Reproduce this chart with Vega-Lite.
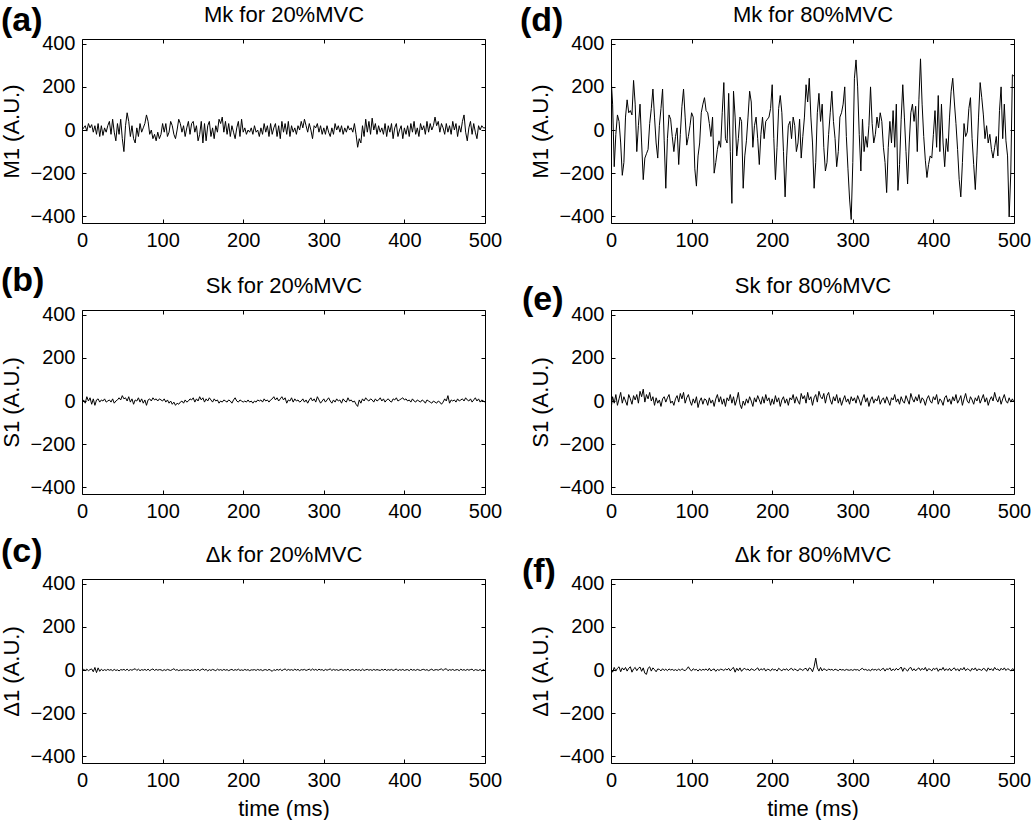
{
"$schema":"https://vega.github.io/schema/vega-lite/v6.json",
"background":"white",
"padding":{"left":0,"top":3,"right":0,"bottom":0},
"columns":2,
"spacing":{"row":12,"column":16},
"config":{
 "font":"Liberation Sans",
 "view":{"stroke":"black","strokeWidth":1},
 "axis":{"grid":false,"domain":false,"ticks":true,"tickColor":"black","tickSize":-4,"tickWidth":1,"labelColor":"black","labelFontSize":20,"labelFont":"Liberation Sans","labelPadding":11,"titleFont":"Liberation Sans","titleFontSize":22,"titleFontWeight":"normal","titleColor":"black","labelFlush":false,"labelOverlap":false},
 "title":{"anchor":"start","frame":"bounds","font":"Liberation Sans","fontSize":34,"fontWeight":"bold","color":"black"},
 "line":{"color":"black","strokeWidth":1}
},
"datasets":{
"a":[{"t":0,"v":0},{"t":2,"v":10},{"t":4,"v":20},{"t":6,"v":-5},{"t":8,"v":30},{"t":10,"v":10},{"t":12,"v":25},{"t":14,"v":-10},{"t":16,"v":20},{"t":18,"v":-20},
{"t":20,"v":30},{"t":22,"v":-30},{"t":24,"v":20},{"t":26,"v":-25},{"t":28,"v":10},{"t":30,"v":-10},{"t":32,"v":20},{"t":34,"v":40},{"t":36,"v":-20},{"t":38,"v":50},
{"t":40,"v":-10},{"t":42,"v":-50},{"t":44,"v":30},{"t":46,"v":-20},{"t":48,"v":50},{"t":50,"v":-40},{"t":52,"v":-100},{"t":54,"v":20},{"t":56,"v":80},{"t":58,"v":40},
{"t":60,"v":-30},{"t":62,"v":20},{"t":64,"v":-40},{"t":66,"v":-60},{"t":68,"v":10},{"t":70,"v":-30},{"t":72,"v":30},{"t":74,"v":-10},{"t":76,"v":10},{"t":78,"v":30},
{"t":80,"v":70},{"t":82,"v":40},{"t":84,"v":-20},{"t":86,"v":0},{"t":88,"v":-40},{"t":90,"v":-20},{"t":92,"v":-50},{"t":94,"v":-10},{"t":96,"v":-40},{"t":98,"v":-20},
{"t":100,"v":30},{"t":102,"v":-10},{"t":104,"v":30},{"t":106,"v":-30},{"t":108,"v":-10},{"t":110,"v":40},{"t":112,"v":20},{"t":114,"v":-20},{"t":116,"v":-40},{"t":118,"v":0},
{"t":120,"v":50},{"t":122,"v":30},{"t":124,"v":-10},{"t":126,"v":20},{"t":128,"v":-30},{"t":130,"v":10},{"t":132,"v":40},{"t":134,"v":-20},{"t":136,"v":30},{"t":138,"v":40},
{"t":140,"v":-10},{"t":142,"v":20},{"t":144,"v":-50},{"t":146,"v":-20},{"t":148,"v":40},{"t":150,"v":-60},{"t":152,"v":30},{"t":154,"v":-50},{"t":156,"v":20},{"t":158,"v":40},
{"t":160,"v":-30},{"t":162,"v":10},{"t":164,"v":-40},{"t":166,"v":20},{"t":168,"v":-10},{"t":170,"v":50},{"t":172,"v":30},{"t":174,"v":60},{"t":176,"v":-10},{"t":178,"v":40},
{"t":180,"v":-20},{"t":182,"v":30},{"t":184,"v":-30},{"t":186,"v":20},{"t":188,"v":-10},{"t":190,"v":-40},{"t":192,"v":10},{"t":194,"v":40},{"t":196,"v":-30},{"t":198,"v":50},
{"t":200,"v":-10},{"t":202,"v":10},{"t":204,"v":-20},{"t":206,"v":0},{"t":208,"v":-10},{"t":210,"v":10},{"t":212,"v":-20},{"t":214,"v":20},{"t":216,"v":-10},{"t":218,"v":0},
{"t":220,"v":-30},{"t":222,"v":10},{"t":224,"v":-20},{"t":226,"v":30},{"t":228,"v":-10},{"t":230,"v":20},{"t":232,"v":-30},{"t":234,"v":30},{"t":236,"v":-20},{"t":238,"v":10},
{"t":240,"v":30},{"t":242,"v":-30},{"t":244,"v":20},{"t":246,"v":-40},{"t":248,"v":40},{"t":250,"v":-10},{"t":252,"v":30},{"t":254,"v":-20},{"t":256,"v":40},{"t":258,"v":-30},
{"t":260,"v":20},{"t":262,"v":-10},{"t":264,"v":10},{"t":266,"v":-20},{"t":268,"v":20},{"t":270,"v":0},{"t":272,"v":40},{"t":274,"v":10},{"t":276,"v":50},{"t":278,"v":20},
{"t":280,"v":-10},{"t":282,"v":30},{"t":284,"v":0},{"t":286,"v":-40},{"t":288,"v":20},{"t":290,"v":10},{"t":292,"v":30},{"t":294,"v":-10},{"t":296,"v":20},{"t":298,"v":-20},
{"t":300,"v":10},{"t":302,"v":-20},{"t":304,"v":20},{"t":306,"v":-10},{"t":308,"v":-30},{"t":310,"v":10},{"t":312,"v":-20},{"t":314,"v":30},{"t":316,"v":0},{"t":318,"v":20},
{"t":320,"v":-10},{"t":322,"v":20},{"t":324,"v":-20},{"t":326,"v":10},{"t":328,"v":-10},{"t":330,"v":20},{"t":332,"v":0},{"t":334,"v":10},{"t":336,"v":-10},{"t":338,"v":30},
{"t":340,"v":-20},{"t":342,"v":-80},{"t":344,"v":-40},{"t":346,"v":-60},{"t":348,"v":20},{"t":350,"v":-30},{"t":352,"v":50},{"t":354,"v":-10},{"t":356,"v":40},{"t":358,"v":-20},
{"t":360,"v":55},{"t":362,"v":0},{"t":364,"v":30},{"t":366,"v":-20},{"t":368,"v":20},{"t":370,"v":-10},{"t":372,"v":10},{"t":374,"v":-20},{"t":376,"v":30},{"t":378,"v":-30},
{"t":380,"v":20},{"t":382,"v":-10},{"t":384,"v":30},{"t":386,"v":-40},{"t":388,"v":10},{"t":390,"v":30},{"t":392,"v":-30},{"t":394,"v":0},{"t":396,"v":20},{"t":398,"v":-40},
{"t":400,"v":10},{"t":402,"v":-20},{"t":404,"v":20},{"t":406,"v":-30},{"t":408,"v":30},{"t":410,"v":-10},{"t":412,"v":40},{"t":414,"v":-20},{"t":416,"v":10},{"t":418,"v":-30},
{"t":420,"v":30},{"t":422,"v":0},{"t":424,"v":20},{"t":426,"v":-20},{"t":428,"v":40},{"t":430,"v":-10},{"t":432,"v":30},{"t":434,"v":0},{"t":436,"v":20},{"t":438,"v":60},
{"t":440,"v":20},{"t":442,"v":40},{"t":444,"v":-10},{"t":446,"v":30},{"t":448,"v":10},{"t":450,"v":-20},{"t":452,"v":30},{"t":454,"v":-10},{"t":456,"v":20},{"t":458,"v":-20},
{"t":460,"v":40},{"t":462,"v":0},{"t":464,"v":30},{"t":466,"v":-30},{"t":468,"v":20},{"t":470,"v":-10},{"t":472,"v":40},{"t":474,"v":70},{"t":476,"v":-10},{"t":478,"v":-50},
{"t":480,"v":10},{"t":482,"v":40},{"t":484,"v":-20},{"t":486,"v":30},{"t":488,"v":-10},{"t":490,"v":-40},{"t":492,"v":20},{"t":494,"v":0},{"t":496,"v":20},{"t":498,"v":10},{"t":500,"v":10}],
"d":[{"t":0,"v":250},{"t":2,"v":120},{"t":4,"v":-170},{"t":6,"v":-20},{"t":8,"v":70},{"t":10,"v":40},{"t":12,"v":-60},{"t":14,"v":-210},{"t":16,"v":-150},{"t":18,"v":60},
{"t":20,"v":140},{"t":22,"v":80},{"t":24,"v":90},{"t":26,"v":70},{"t":28,"v":230},{"t":30,"v":120},{"t":32,"v":-100},{"t":34,"v":20},{"t":36,"v":120},{"t":38,"v":-60},
{"t":40,"v":-230},{"t":42,"v":-130},{"t":44,"v":-110},{"t":46,"v":-90},{"t":48,"v":30},{"t":50,"v":100},{"t":52,"v":190},{"t":54,"v":60},{"t":56,"v":-60},{"t":58,"v":-130},
{"t":60,"v":20},{"t":62,"v":100},{"t":64,"v":190},{"t":66,"v":-50},{"t":68,"v":-270},{"t":70,"v":-40},{"t":72,"v":70},{"t":74,"v":50},{"t":76,"v":-30},{"t":78,"v":-100},
{"t":80,"v":-30},{"t":82,"v":10},{"t":84,"v":-160},{"t":86,"v":-20},{"t":88,"v":110},{"t":90,"v":190},{"t":92,"v":60},{"t":94,"v":-70},{"t":96,"v":-30},{"t":98,"v":20},
{"t":100,"v":80},{"t":102,"v":60},{"t":104,"v":-180},{"t":106,"v":-260},{"t":108,"v":-120},{"t":110,"v":-60},{"t":112,"v":80},{"t":114,"v":120},{"t":116,"v":150},{"t":118,"v":90},
{"t":120,"v":80},{"t":122,"v":30},{"t":124,"v":-30},{"t":126,"v":60},{"t":128,"v":-200},{"t":130,"v":-150},{"t":132,"v":-90},{"t":134,"v":-50},{"t":136,"v":-80},{"t":138,"v":80},
{"t":140,"v":220},{"t":142,"v":-40},{"t":144,"v":-60},{"t":146,"v":170},{"t":148,"v":-100},{"t":150,"v":-340},{"t":152,"v":180},{"t":154,"v":60},{"t":156,"v":-120},{"t":158,"v":-40},
{"t":160,"v":60},{"t":162,"v":40},{"t":164,"v":-270},{"t":166,"v":-120},{"t":168,"v":-50},{"t":170,"v":60},{"t":172,"v":180},{"t":174,"v":130},{"t":176,"v":-80},{"t":178,"v":20},
{"t":180,"v":60},{"t":182,"v":-40},{"t":184,"v":-160},{"t":186,"v":-20},{"t":188,"v":60},{"t":190,"v":-40},{"t":192,"v":40},{"t":194,"v":50},{"t":196,"v":60},{"t":198,"v":100},
{"t":200,"v":210},{"t":202,"v":-40},{"t":204,"v":-230},{"t":206,"v":-80},{"t":208,"v":100},{"t":210,"v":160},{"t":212,"v":80},{"t":214,"v":-100},{"t":216,"v":-310},{"t":218,"v":-120},
{"t":220,"v":20},{"t":222,"v":40},{"t":224,"v":-40},{"t":226,"v":60},{"t":228,"v":20},{"t":230,"v":-100},{"t":232,"v":-60},{"t":234,"v":50},{"t":236,"v":-130},{"t":238,"v":-30},
{"t":240,"v":60},{"t":242,"v":210},{"t":244,"v":130},{"t":246,"v":240},{"t":248,"v":60},{"t":250,"v":-60},{"t":252,"v":-270},{"t":254,"v":-150},{"t":256,"v":80},{"t":258,"v":170},
{"t":260,"v":40},{"t":262,"v":120},{"t":264,"v":-80},{"t":266,"v":-190},{"t":268,"v":-150},{"t":270,"v":-20},{"t":272,"v":80},{"t":274,"v":180},{"t":276,"v":40},{"t":278,"v":-40},
{"t":280,"v":-170},{"t":282,"v":-100},{"t":284,"v":60},{"t":286,"v":80},{"t":288,"v":120},{"t":290,"v":200},{"t":292,"v":-30},{"t":294,"v":-180},{"t":296,"v":-320},{"t":298,"v":-415},
{"t":300,"v":-150},{"t":302,"v":240},{"t":304,"v":325},{"t":306,"v":200},{"t":308,"v":-20},{"t":310,"v":-190},{"t":312,"v":50},{"t":314,"v":-100},{"t":316,"v":-30},{"t":318,"v":-80},
{"t":320,"v":20},{"t":322,"v":200},{"t":324,"v":30},{"t":326,"v":-60},{"t":328,"v":-20},{"t":330,"v":60},{"t":332,"v":10},{"t":334,"v":80},{"t":336,"v":40},{"t":338,"v":-80},
{"t":340,"v":-150},{"t":342,"v":-290},{"t":344,"v":-80},{"t":346,"v":40},{"t":348,"v":-60},{"t":350,"v":90},{"t":352,"v":-80},{"t":354,"v":120},{"t":356,"v":-280},{"t":358,"v":-160},
{"t":360,"v":50},{"t":362,"v":210},{"t":364,"v":60},{"t":366,"v":-100},{"t":368,"v":-250},{"t":370,"v":-60},{"t":372,"v":80},{"t":374,"v":120},{"t":376,"v":40},{"t":378,"v":110},
{"t":380,"v":-100},{"t":382,"v":140},{"t":384,"v":330},{"t":386,"v":120},{"t":388,"v":-30},{"t":390,"v":-140},{"t":392,"v":-220},{"t":394,"v":-160},{"t":396,"v":-120},{"t":398,"v":-130},
{"t":400,"v":-20},{"t":402,"v":90},{"t":404,"v":-80},{"t":406,"v":160},{"t":408,"v":-100},{"t":410,"v":120},{"t":412,"v":-60},{"t":414,"v":-170},{"t":416,"v":-40},{"t":418,"v":-100},
{"t":420,"v":60},{"t":422,"v":180},{"t":424,"v":240},{"t":426,"v":130},{"t":428,"v":30},{"t":430,"v":-90},{"t":432,"v":-230},{"t":434,"v":-310},{"t":436,"v":-150},{"t":438,"v":30},
{"t":440,"v":-30},{"t":442,"v":-10},{"t":444,"v":100},{"t":446,"v":150},{"t":448,"v":-40},{"t":450,"v":-160},{"t":452,"v":-276},{"t":454,"v":-120},{"t":456,"v":60},{"t":458,"v":220},
{"t":460,"v":150},{"t":462,"v":70},{"t":464,"v":-40},{"t":466,"v":20},{"t":468,"v":-60},{"t":470,"v":-20},{"t":472,"v":-90},{"t":474,"v":-130},{"t":476,"v":-80},{"t":478,"v":-30},
{"t":480,"v":-120},{"t":482,"v":90},{"t":484,"v":200},{"t":486,"v":-40},{"t":488,"v":120},{"t":490,"v":-50},{"t":492,"v":-120},{"t":494,"v":-403},{"t":496,"v":-200},{"t":498,"v":256},{"t":500,"v":250}],
"b":[{"t":0,"v":-5},{"t":2,"v":5},{"t":4,"v":-10},{"t":6,"v":20},{"t":8,"v":0},{"t":10,"v":15},{"t":12,"v":-15},{"t":14,"v":10},{"t":16,"v":-20},{"t":18,"v":5},
{"t":20,"v":10},{"t":22,"v":-5},{"t":24,"v":5},{"t":26,"v":0},{"t":28,"v":10},{"t":30,"v":-5},{"t":32,"v":0},{"t":34,"v":5},{"t":36,"v":-5},{"t":38,"v":10},
{"t":40,"v":-10},{"t":42,"v":0},{"t":44,"v":5},{"t":46,"v":15},{"t":48,"v":5},{"t":50,"v":25},{"t":52,"v":10},{"t":54,"v":15},{"t":56,"v":0},{"t":58,"v":20},
{"t":60,"v":-5},{"t":62,"v":10},{"t":64,"v":-15},{"t":66,"v":5},{"t":68,"v":0},{"t":70,"v":15},{"t":72,"v":-5},{"t":74,"v":10},{"t":76,"v":-10},{"t":78,"v":5},
{"t":80,"v":-20},{"t":82,"v":5},{"t":84,"v":10},{"t":86,"v":0},{"t":88,"v":15},{"t":90,"v":5},{"t":92,"v":10},{"t":94,"v":0},{"t":96,"v":10},{"t":98,"v":5},
{"t":100,"v":0},{"t":102,"v":10},{"t":104,"v":-5},{"t":106,"v":5},{"t":108,"v":-10},{"t":110,"v":0},{"t":112,"v":-15},{"t":114,"v":-5},{"t":116,"v":-20},{"t":118,"v":-10},
{"t":120,"v":-15},{"t":122,"v":-5},{"t":124,"v":0},{"t":126,"v":-10},{"t":128,"v":5},{"t":130,"v":-5},{"t":132,"v":0},{"t":134,"v":10},{"t":136,"v":5},{"t":138,"v":15},
{"t":140,"v":-5},{"t":142,"v":10},{"t":144,"v":0},{"t":146,"v":20},{"t":148,"v":5},{"t":150,"v":15},{"t":152,"v":-5},{"t":154,"v":10},{"t":156,"v":0},{"t":158,"v":15},
{"t":160,"v":5},{"t":162,"v":-5},{"t":164,"v":10},{"t":166,"v":0},{"t":168,"v":5},{"t":170,"v":-10},{"t":172,"v":0},{"t":174,"v":-5},{"t":176,"v":5},{"t":178,"v":0},
{"t":180,"v":-5},{"t":182,"v":5},{"t":184,"v":0},{"t":186,"v":-10},{"t":188,"v":5},{"t":190,"v":15},{"t":192,"v":0},{"t":194,"v":-5},{"t":196,"v":5},{"t":198,"v":0},
{"t":200,"v":-5},{"t":202,"v":0},{"t":204,"v":-5},{"t":206,"v":5},{"t":208,"v":-5},{"t":210,"v":0},{"t":212,"v":-10},{"t":214,"v":0},{"t":216,"v":-5},{"t":218,"v":5},
{"t":220,"v":0},{"t":222,"v":5},{"t":224,"v":-5},{"t":226,"v":10},{"t":228,"v":0},{"t":230,"v":5},{"t":232,"v":-5},{"t":234,"v":5},{"t":236,"v":10},{"t":238,"v":20},
{"t":240,"v":5},{"t":242,"v":15},{"t":244,"v":0},{"t":246,"v":10},{"t":248,"v":20},{"t":250,"v":5},{"t":252,"v":15},{"t":254,"v":-10},{"t":256,"v":5},{"t":258,"v":0},
{"t":260,"v":15},{"t":262,"v":-5},{"t":264,"v":10},{"t":266,"v":0},{"t":268,"v":5},{"t":270,"v":-5},{"t":272,"v":0},{"t":274,"v":10},{"t":276,"v":-5},{"t":278,"v":5},
{"t":280,"v":-10},{"t":282,"v":5},{"t":284,"v":15},{"t":286,"v":0},{"t":288,"v":10},{"t":290,"v":-5},{"t":292,"v":20},{"t":294,"v":5},{"t":296,"v":-10},{"t":298,"v":0},
{"t":300,"v":10},{"t":302,"v":-5},{"t":304,"v":5},{"t":306,"v":15},{"t":308,"v":0},{"t":310,"v":-10},{"t":312,"v":5},{"t":314,"v":-5},{"t":316,"v":10},{"t":318,"v":0},
{"t":320,"v":5},{"t":322,"v":-10},{"t":324,"v":10},{"t":326,"v":0},{"t":328,"v":-5},{"t":330,"v":15},{"t":332,"v":0},{"t":334,"v":5},{"t":336,"v":-5},{"t":338,"v":0},
{"t":340,"v":-15},{"t":342,"v":-25},{"t":344,"v":5},{"t":346,"v":-10},{"t":348,"v":10},{"t":350,"v":0},{"t":352,"v":15},{"t":354,"v":5},{"t":356,"v":0},{"t":358,"v":10},
{"t":360,"v":5},{"t":362,"v":-5},{"t":364,"v":10},{"t":366,"v":0},{"t":368,"v":5},{"t":370,"v":15},{"t":372,"v":0},{"t":374,"v":10},{"t":376,"v":-5},{"t":378,"v":5},
{"t":380,"v":10},{"t":382,"v":0},{"t":384,"v":-5},{"t":386,"v":10},{"t":388,"v":5},{"t":390,"v":15},{"t":392,"v":0},{"t":394,"v":5},{"t":396,"v":10},{"t":398,"v":15},
{"t":400,"v":5},{"t":402,"v":10},{"t":404,"v":0},{"t":406,"v":5},{"t":408,"v":-5},{"t":410,"v":10},{"t":412,"v":0},{"t":414,"v":-5},{"t":416,"v":5},{"t":418,"v":0},
{"t":420,"v":-5},{"t":422,"v":5},{"t":424,"v":0},{"t":426,"v":-10},{"t":428,"v":5},{"t":430,"v":0},{"t":432,"v":-5},{"t":434,"v":-10},{"t":436,"v":0},{"t":438,"v":-5},
{"t":440,"v":-10},{"t":442,"v":0},{"t":444,"v":-5},{"t":446,"v":-15},{"t":448,"v":-5},{"t":450,"v":10},{"t":452,"v":0},{"t":454,"v":25},{"t":456,"v":-10},{"t":458,"v":5},
{"t":460,"v":0},{"t":462,"v":5},{"t":464,"v":-5},{"t":466,"v":10},{"t":468,"v":0},{"t":470,"v":5},{"t":472,"v":10},{"t":474,"v":0},{"t":476,"v":15},{"t":478,"v":5},
{"t":480,"v":0},{"t":482,"v":10},{"t":484,"v":-5},{"t":486,"v":5},{"t":488,"v":15},{"t":490,"v":0},{"t":492,"v":10},{"t":494,"v":-5},{"t":496,"v":5},{"t":498,"v":0},{"t":500,"v":-5}],
"e":[{"t":0,"v":-40},{"t":2,"v":20},{"t":4,"v":-10},{"t":6,"v":30},{"t":8,"v":-20},{"t":10,"v":10},{"t":12,"v":40},{"t":14,"v":-10},{"t":16,"v":20},{"t":18,"v":0},
{"t":20,"v":-20},{"t":22,"v":30},{"t":24,"v":10},{"t":26,"v":-15},{"t":28,"v":25},{"t":30,"v":5},{"t":32,"v":30},{"t":34,"v":-10},{"t":36,"v":45},{"t":38,"v":20},
{"t":40,"v":55},{"t":42,"v":-5},{"t":44,"v":30},{"t":46,"v":10},{"t":48,"v":40},{"t":50,"v":0},{"t":52,"v":20},{"t":54,"v":-20},{"t":56,"v":15},{"t":58,"v":-10},
{"t":60,"v":5},{"t":62,"v":-25},{"t":64,"v":10},{"t":66,"v":20},{"t":68,"v":-5},{"t":70,"v":15},{"t":72,"v":30},{"t":74,"v":-10},{"t":76,"v":0},{"t":78,"v":-20},
{"t":80,"v":10},{"t":82,"v":25},{"t":84,"v":-5},{"t":86,"v":35},{"t":88,"v":10},{"t":90,"v":40},{"t":92,"v":-10},{"t":94,"v":15},{"t":96,"v":30},{"t":98,"v":0},
{"t":100,"v":-20},{"t":102,"v":10},{"t":104,"v":-10},{"t":106,"v":20},{"t":108,"v":-30},{"t":110,"v":0},{"t":112,"v":15},{"t":114,"v":-15},{"t":116,"v":10},{"t":118,"v":5},
{"t":120,"v":-20},{"t":122,"v":15},{"t":124,"v":-10},{"t":126,"v":5},{"t":128,"v":-25},{"t":130,"v":10},{"t":132,"v":30},{"t":134,"v":-5},{"t":136,"v":20},{"t":138,"v":-15},
{"t":140,"v":10},{"t":142,"v":-25},{"t":144,"v":15},{"t":146,"v":0},{"t":148,"v":30},{"t":150,"v":-10},{"t":152,"v":20},{"t":154,"v":-20},{"t":156,"v":5},{"t":158,"v":40},
{"t":160,"v":-15},{"t":162,"v":-35},{"t":164,"v":0},{"t":166,"v":-20},{"t":168,"v":10},{"t":170,"v":-10},{"t":172,"v":20},{"t":174,"v":0},{"t":176,"v":-25},{"t":178,"v":15},
{"t":180,"v":-5},{"t":182,"v":25},{"t":184,"v":5},{"t":186,"v":-15},{"t":188,"v":20},{"t":190,"v":-10},{"t":192,"v":30},{"t":194,"v":0},{"t":196,"v":15},{"t":198,"v":-20},
{"t":200,"v":10},{"t":202,"v":-15},{"t":204,"v":25},{"t":206,"v":-5},{"t":208,"v":15},{"t":210,"v":-25},{"t":212,"v":5},{"t":214,"v":20},{"t":216,"v":-10},{"t":218,"v":10},
{"t":220,"v":-20},{"t":222,"v":15},{"t":224,"v":5},{"t":226,"v":30},{"t":228,"v":-10},{"t":230,"v":20},{"t":232,"v":0},{"t":234,"v":-15},{"t":236,"v":35},{"t":238,"v":10},
{"t":240,"v":25},{"t":242,"v":-10},{"t":244,"v":40},{"t":246,"v":5},{"t":248,"v":20},{"t":250,"v":-20},{"t":252,"v":15},{"t":254,"v":30},{"t":256,"v":-5},{"t":258,"v":45},
{"t":260,"v":20},{"t":262,"v":10},{"t":264,"v":35},{"t":266,"v":-10},{"t":268,"v":25},{"t":270,"v":40},{"t":272,"v":5},{"t":274,"v":-15},{"t":276,"v":20},{"t":278,"v":0},
{"t":280,"v":30},{"t":282,"v":-10},{"t":284,"v":15},{"t":286,"v":-20},{"t":288,"v":5},{"t":290,"v":25},{"t":292,"v":-5},{"t":294,"v":10},{"t":296,"v":-15},{"t":298,"v":20},
{"t":300,"v":0},{"t":302,"v":15},{"t":304,"v":-10},{"t":306,"v":25},{"t":308,"v":5},{"t":310,"v":-20},{"t":312,"v":10},{"t":314,"v":30},{"t":316,"v":-5},{"t":318,"v":15},
{"t":320,"v":-25},{"t":322,"v":5},{"t":324,"v":20},{"t":326,"v":-10},{"t":328,"v":10},{"t":330,"v":0},{"t":332,"v":25},{"t":334,"v":-15},{"t":336,"v":5},{"t":338,"v":15},
{"t":340,"v":-10},{"t":342,"v":20},{"t":344,"v":0},{"t":346,"v":-20},{"t":348,"v":15},{"t":350,"v":5},{"t":352,"v":30},{"t":354,"v":-5},{"t":356,"v":10},{"t":358,"v":-15},
{"t":360,"v":20},{"t":362,"v":0},{"t":364,"v":-10},{"t":366,"v":25},{"t":368,"v":5},{"t":370,"v":-15},{"t":372,"v":35},{"t":374,"v":10},{"t":376,"v":-5},{"t":378,"v":20},
{"t":380,"v":0},{"t":382,"v":30},{"t":384,"v":-10},{"t":386,"v":15},{"t":388,"v":5},{"t":390,"v":-20},{"t":392,"v":10},{"t":394,"v":25},{"t":396,"v":0},{"t":398,"v":-10},
{"t":400,"v":20},{"t":402,"v":5},{"t":404,"v":30},{"t":406,"v":-15},{"t":408,"v":10},{"t":410,"v":0},{"t":412,"v":-20},{"t":414,"v":15},{"t":416,"v":25},{"t":418,"v":-5},
{"t":420,"v":10},{"t":422,"v":-15},{"t":424,"v":20},{"t":426,"v":0},{"t":428,"v":30},{"t":430,"v":-10},{"t":432,"v":5},{"t":434,"v":25},{"t":436,"v":-20},{"t":438,"v":10},
{"t":440,"v":35},{"t":442,"v":0},{"t":444,"v":-10},{"t":446,"v":20},{"t":448,"v":5},{"t":450,"v":-15},{"t":452,"v":15},{"t":454,"v":0},{"t":456,"v":25},{"t":458,"v":-10},
{"t":460,"v":10},{"t":462,"v":30},{"t":464,"v":-5},{"t":466,"v":15},{"t":468,"v":-20},{"t":470,"v":5},{"t":472,"v":20},{"t":474,"v":0},{"t":476,"v":40},{"t":478,"v":10},
{"t":480,"v":-5},{"t":482,"v":20},{"t":484,"v":-15},{"t":486,"v":10},{"t":488,"v":30},{"t":490,"v":0},{"t":492,"v":-10},{"t":494,"v":15},{"t":496,"v":-5},{"t":498,"v":10},{"t":500,"v":-5}],
"c":[{"t":0,"v":0},{"t":2,"v":3},{"t":4,"v":-2},{"t":6,"v":4},{"t":8,"v":-3},{"t":10,"v":2},{"t":12,"v":5},{"t":14,"v":-8},{"t":16,"v":12},{"t":18,"v":-12},
{"t":20,"v":10},{"t":22,"v":-6},{"t":24,"v":4},{"t":26,"v":-3},{"t":28,"v":2},{"t":30,"v":-2},{"t":32,"v":3},{"t":34,"v":-1},{"t":36,"v":2},{"t":38,"v":-3},
{"t":40,"v":3},{"t":42,"v":-2},{"t":44,"v":1},{"t":46,"v":-4},{"t":48,"v":2},{"t":50,"v":0},{"t":52,"v":3},{"t":54,"v":-2},{"t":56,"v":4},{"t":58,"v":-3},
{"t":60,"v":2},{"t":62,"v":-1},{"t":64,"v":3},{"t":66,"v":6},{"t":68,"v":-2},{"t":70,"v":4},{"t":72,"v":-3},{"t":74,"v":2},{"t":76,"v":-1},{"t":78,"v":3},
{"t":80,"v":-2},{"t":82,"v":4},{"t":84,"v":-3},{"t":86,"v":2},{"t":88,"v":5},{"t":90,"v":-2},{"t":92,"v":3},{"t":94,"v":-1},{"t":96,"v":2},{"t":98,"v":1},
{"t":100,"v":-3},{"t":102,"v":2},{"t":104,"v":-2},{"t":106,"v":3},{"t":108,"v":0},{"t":110,"v":-2},{"t":112,"v":2},{"t":114,"v":6},{"t":116,"v":-1},{"t":118,"v":2},
{"t":120,"v":-3},{"t":122,"v":1},{"t":124,"v":-2},{"t":126,"v":2},{"t":128,"v":-1},{"t":130,"v":0},{"t":132,"v":2},{"t":134,"v":-3},{"t":136,"v":1},{"t":138,"v":-2},
{"t":140,"v":3},{"t":142,"v":-2},{"t":144,"v":4},{"t":146,"v":-3},{"t":148,"v":2},{"t":150,"v":5},{"t":152,"v":-1},{"t":154,"v":3},{"t":156,"v":-4},{"t":158,"v":2},
{"t":160,"v":-2},{"t":162,"v":3},{"t":164,"v":0},{"t":166,"v":-3},{"t":168,"v":4},{"t":170,"v":-1},{"t":172,"v":2},{"t":174,"v":-2},{"t":176,"v":3},{"t":178,"v":-1},
{"t":180,"v":2},{"t":182,"v":-3},{"t":184,"v":1},{"t":186,"v":3},{"t":188,"v":-2},{"t":190,"v":2},{"t":192,"v":-1},{"t":194,"v":4},{"t":196,"v":-2},{"t":198,"v":1},
{"t":200,"v":-2},{"t":202,"v":3},{"t":204,"v":-1},{"t":206,"v":2},{"t":208,"v":-3},{"t":210,"v":1},{"t":212,"v":0},{"t":214,"v":2},{"t":216,"v":-2},{"t":218,"v":3},
{"t":220,"v":-1},{"t":222,"v":2},{"t":224,"v":-3},{"t":226,"v":1},{"t":228,"v":2},{"t":230,"v":-2},{"t":232,"v":3},{"t":234,"v":-1},{"t":236,"v":-6},{"t":238,"v":2},
{"t":240,"v":-2},{"t":242,"v":3},{"t":244,"v":-1},{"t":246,"v":4},{"t":248,"v":-3},{"t":250,"v":2},{"t":252,"v":5},{"t":254,"v":-2},{"t":256,"v":3},{"t":258,"v":-1},
{"t":260,"v":2},{"t":262,"v":-2},{"t":264,"v":4},{"t":266,"v":-1},{"t":268,"v":3},{"t":270,"v":-3},{"t":272,"v":2},{"t":274,"v":0},{"t":276,"v":3},{"t":278,"v":-2},
{"t":280,"v":1},{"t":282,"v":4},{"t":284,"v":-2},{"t":286,"v":5},{"t":288,"v":-1},{"t":290,"v":3},{"t":292,"v":-2},{"t":294,"v":4},{"t":296,"v":0},{"t":298,"v":2},
{"t":300,"v":-3},{"t":302,"v":3},{"t":304,"v":-1},{"t":306,"v":2},{"t":308,"v":5},{"t":310,"v":-2},{"t":312,"v":3},{"t":314,"v":-1},{"t":316,"v":2},{"t":318,"v":-2},
{"t":320,"v":1},{"t":322,"v":3},{"t":324,"v":-2},{"t":326,"v":2},{"t":328,"v":-1},{"t":330,"v":4},{"t":332,"v":-3},{"t":334,"v":1},{"t":336,"v":2},{"t":338,"v":-2},
{"t":340,"v":3},{"t":342,"v":-1},{"t":344,"v":2},{"t":346,"v":-3},{"t":348,"v":4},{"t":350,"v":-2},{"t":352,"v":1},{"t":354,"v":3},{"t":356,"v":-1},{"t":358,"v":2},
{"t":360,"v":-2},{"t":362,"v":3},{"t":364,"v":-1},{"t":366,"v":2},{"t":368,"v":0},{"t":370,"v":-2},{"t":372,"v":3},{"t":374,"v":-1},{"t":376,"v":4},{"t":378,"v":-2},
{"t":380,"v":2},{"t":382,"v":-1},{"t":384,"v":3},{"t":386,"v":-2},{"t":388,"v":1},{"t":390,"v":5},{"t":392,"v":-3},{"t":394,"v":2},{"t":396,"v":-1},{"t":398,"v":3},
{"t":400,"v":-2},{"t":402,"v":1},{"t":404,"v":2},{"t":406,"v":-3},{"t":408,"v":4},{"t":410,"v":-1},{"t":412,"v":2},{"t":414,"v":-2},{"t":416,"v":3},{"t":418,"v":0},
{"t":420,"v":-2},{"t":422,"v":2},{"t":424,"v":3},{"t":426,"v":-1},{"t":428,"v":2},{"t":430,"v":-3},{"t":432,"v":1},{"t":434,"v":4},{"t":436,"v":-2},{"t":438,"v":1},
{"t":440,"v":2},{"t":442,"v":-1},{"t":444,"v":3},{"t":446,"v":5},{"t":448,"v":-2},{"t":450,"v":4},{"t":452,"v":6},{"t":454,"v":-3},{"t":456,"v":2},{"t":458,"v":-1},
{"t":460,"v":3},{"t":462,"v":-2},{"t":464,"v":1},{"t":466,"v":2},{"t":468,"v":-3},{"t":470,"v":4},{"t":472,"v":-1},{"t":474,"v":2},{"t":476,"v":-2},{"t":478,"v":3},
{"t":480,"v":-1},{"t":482,"v":2},{"t":484,"v":4},{"t":486,"v":-3},{"t":488,"v":2},{"t":490,"v":0},{"t":492,"v":-2},{"t":494,"v":3},{"t":496,"v":-4},{"t":498,"v":2},{"t":500,"v":-3}],
"f":[{"t":0,"v":5},{"t":2,"v":-10},{"t":4,"v":12},{"t":6,"v":-5},{"t":8,"v":8},{"t":10,"v":15},{"t":12,"v":-8},{"t":14,"v":10},{"t":16,"v":0},{"t":18,"v":12},
{"t":20,"v":-5},{"t":22,"v":8},{"t":24,"v":15},{"t":26,"v":-10},{"t":28,"v":5},{"t":30,"v":12},{"t":32,"v":-3},{"t":34,"v":8},{"t":36,"v":14},{"t":38,"v":-6},
{"t":40,"v":10},{"t":42,"v":-15},{"t":44,"v":-20},{"t":46,"v":8},{"t":48,"v":15},{"t":50,"v":-5},{"t":52,"v":10},{"t":54,"v":2},{"t":56,"v":-8},{"t":58,"v":5},
{"t":60,"v":3},{"t":62,"v":-4},{"t":64,"v":6},{"t":66,"v":-2},{"t":68,"v":4},{"t":70,"v":-3},{"t":72,"v":5},{"t":74,"v":0},{"t":76,"v":3},{"t":78,"v":-2},
{"t":80,"v":2},{"t":82,"v":-3},{"t":84,"v":4},{"t":86,"v":-2},{"t":88,"v":6},{"t":90,"v":0},{"t":92,"v":-3},{"t":94,"v":5},{"t":96,"v":15},{"t":98,"v":2},
{"t":100,"v":-4},{"t":102,"v":6},{"t":104,"v":0},{"t":106,"v":3},{"t":108,"v":-5},{"t":110,"v":4},{"t":112,"v":-2},{"t":114,"v":3},{"t":116,"v":0},{"t":118,"v":5},
{"t":120,"v":-3},{"t":122,"v":8},{"t":124,"v":-4},{"t":126,"v":2},{"t":128,"v":5},{"t":130,"v":-6},{"t":132,"v":3},{"t":134,"v":-2},{"t":136,"v":4},{"t":138,"v":2},
{"t":140,"v":-2},{"t":142,"v":5},{"t":144,"v":0},{"t":146,"v":8},{"t":148,"v":-4},{"t":150,"v":6},{"t":152,"v":12},{"t":154,"v":-10},{"t":156,"v":8},{"t":158,"v":-3},
{"t":160,"v":10},{"t":162,"v":-6},{"t":164,"v":4},{"t":166,"v":8},{"t":168,"v":0},{"t":170,"v":5},{"t":172,"v":-4},{"t":174,"v":6},{"t":176,"v":2},{"t":178,"v":-2},
{"t":180,"v":4},{"t":182,"v":10},{"t":184,"v":-3},{"t":186,"v":6},{"t":188,"v":0},{"t":190,"v":8},{"t":192,"v":-5},{"t":194,"v":4},{"t":196,"v":2},{"t":198,"v":-4},
{"t":200,"v":6},{"t":202,"v":0},{"t":204,"v":3},{"t":206,"v":-5},{"t":208,"v":8},{"t":210,"v":2},{"t":212,"v":-4},{"t":214,"v":5},{"t":216,"v":0},{"t":218,"v":6},
{"t":220,"v":-3},{"t":222,"v":4},{"t":224,"v":8},{"t":226,"v":-2},{"t":228,"v":5},{"t":230,"v":0},{"t":232,"v":-4},{"t":234,"v":6},{"t":236,"v":3},{"t":238,"v":-2},
{"t":240,"v":5},{"t":242,"v":8},{"t":244,"v":-5},{"t":246,"v":10},{"t":248,"v":6},{"t":250,"v":-8},{"t":252,"v":15},{"t":254,"v":55},{"t":256,"v":10},{"t":258,"v":-5},
{"t":260,"v":12},{"t":262,"v":-4},{"t":264,"v":6},{"t":266,"v":2},{"t":268,"v":-3},{"t":270,"v":5},{"t":272,"v":0},{"t":274,"v":3},{"t":276,"v":-2},{"t":278,"v":4},
{"t":280,"v":1},{"t":282,"v":-3},{"t":284,"v":4},{"t":286,"v":0},{"t":288,"v":2},{"t":290,"v":-2},{"t":292,"v":3},{"t":294,"v":0},{"t":296,"v":-1},{"t":298,"v":2},
{"t":300,"v":-2},{"t":302,"v":3},{"t":304,"v":0},{"t":306,"v":2},{"t":308,"v":-3},{"t":310,"v":4},{"t":312,"v":8},{"t":314,"v":0},{"t":316,"v":3},{"t":318,"v":-2},
{"t":320,"v":2},{"t":322,"v":-4},{"t":324,"v":5},{"t":326,"v":0},{"t":328,"v":3},{"t":330,"v":-2},{"t":332,"v":6},{"t":334,"v":-3},{"t":336,"v":4},{"t":338,"v":8},
{"t":340,"v":-5},{"t":342,"v":6},{"t":344,"v":2},{"t":346,"v":10},{"t":348,"v":-4},{"t":350,"v":5},{"t":352,"v":-2},{"t":354,"v":8},{"t":356,"v":0},{"t":358,"v":6},
{"t":360,"v":14},{"t":362,"v":-6},{"t":364,"v":10},{"t":366,"v":2},{"t":368,"v":-5},{"t":370,"v":8},{"t":372,"v":12},{"t":374,"v":-3},{"t":376,"v":6},{"t":378,"v":-4},
{"t":380,"v":5},{"t":382,"v":10},{"t":384,"v":-2},{"t":386,"v":8},{"t":388,"v":0},{"t":390,"v":12},{"t":392,"v":-5},{"t":394,"v":6},{"t":396,"v":3},{"t":398,"v":-4},
{"t":400,"v":8},{"t":402,"v":2},{"t":404,"v":10},{"t":406,"v":-6},{"t":408,"v":5},{"t":410,"v":0},{"t":412,"v":12},{"t":414,"v":-3},{"t":416,"v":6},{"t":418,"v":-2},
{"t":420,"v":8},{"t":422,"v":-4},{"t":424,"v":5},{"t":426,"v":10},{"t":428,"v":-2},{"t":430,"v":6},{"t":432,"v":-5},{"t":434,"v":8},{"t":436,"v":0},{"t":438,"v":12},
{"t":440,"v":-3},{"t":442,"v":6},{"t":444,"v":2},{"t":446,"v":-5},{"t":448,"v":8},{"t":450,"v":0},{"t":452,"v":10},{"t":454,"v":-4},{"t":456,"v":5},{"t":458,"v":2},
{"t":460,"v":-2},{"t":462,"v":8},{"t":464,"v":4},{"t":466,"v":-6},{"t":468,"v":10},{"t":470,"v":0},{"t":472,"v":6},{"t":474,"v":-3},{"t":476,"v":12},{"t":478,"v":2},
{"t":480,"v":5},{"t":482,"v":-4},{"t":484,"v":8},{"t":486,"v":0},{"t":488,"v":10},{"t":490,"v":-2},{"t":492,"v":6},{"t":494,"v":3},{"t":496,"v":-5},{"t":498,"v":6},{"t":500,"v":2}]
},
"concat":[
{"title":{"text":"(a)","offset":-34},"width":403,"height":184,"data":{"name":"a"},
 "layer":[
  {"mark":{"type":"line","clip":true},"encoding":{
   "x":{"field":"t","type":"quantitative","scale":{"domain":[0,500],"nice":false,"zero":false},"axis":{"values":[0,100,200,300,400,500],"title":null}},
   "y":{"field":"v","type":"quantitative","scale":{"domain":[-431,422],"nice":false,"zero":false},"axis":{"values":[-400,-200,0,200,400],"title":"M1 (A.U.)","titlePadding":6}}}},
  {"mark":{"type":"line","opacity":0},"encoding":{
   "x":{"field":"t","type":"quantitative","scale":{"domain":[0,500],"nice":false,"zero":false},"axis":{"orient":"top","values":[0,100,200,300,400,500],"labels":false,"title":"Mk for 20%MVC","titlePadding":12}},
   "y":{"field":"v","type":"quantitative","scale":{"domain":[-431,422],"nice":false,"zero":false},"axis":{"orient":"right","values":[-400,-200,0,200,400],"labels":false,"title":null}}}}
 ],
 "resolve":{"axis":{"x":"independent","y":"independent"}}},
{"title":{"text":"(d)","offset":-34,"dx":-10},"width":403,"height":184,"data":{"name":"d"},
 "layer":[
  {"mark":{"type":"line","clip":true},"encoding":{
   "x":{"field":"t","type":"quantitative","scale":{"domain":[0,500],"nice":false,"zero":false},"axis":{"values":[0,100,200,300,400,500],"title":null}},
   "y":{"field":"v","type":"quantitative","scale":{"domain":[-431,422],"nice":false,"zero":false},"axis":{"values":[-400,-200,0,200,400],"title":"M1 (A.U.)","titlePadding":6}}}},
  {"mark":{"type":"line","opacity":0},"encoding":{
   "x":{"field":"t","type":"quantitative","scale":{"domain":[0,500],"nice":false,"zero":false},"axis":{"orient":"top","values":[0,100,200,300,400,500],"labels":false,"title":"Mk for 80%MVC","titlePadding":12}},
   "y":{"field":"v","type":"quantitative","scale":{"domain":[-431,422],"nice":false,"zero":false},"axis":{"orient":"right","values":[-400,-200,0,200,400],"labels":false,"title":null}}}}
 ],
 "resolve":{"axis":{"x":"independent","y":"independent"}}},
{"title":{"text":"(b)","offset":-23},"width":403,"height":184,"data":{"name":"b"},
 "layer":[
  {"mark":{"type":"line","clip":true},"encoding":{
   "x":{"field":"t","type":"quantitative","scale":{"domain":[0,500],"nice":false,"zero":false},"axis":{"values":[0,100,200,300,400,500],"title":null}},
   "y":{"field":"v","type":"quantitative","scale":{"domain":[-431,422],"nice":false,"zero":false},"axis":{"values":[-400,-200,0,200,400],"title":"S1 (A.U.)","titlePadding":6}}}},
  {"mark":{"type":"line","opacity":0},"encoding":{
   "x":{"field":"t","type":"quantitative","scale":{"domain":[0,500],"nice":false,"zero":false},"axis":{"orient":"top","values":[0,100,200,300,400,500],"labels":false,"title":"Sk for 20%MVC","titlePadding":12}},
   "y":{"field":"v","type":"quantitative","scale":{"domain":[-431,422],"nice":false,"zero":false},"axis":{"orient":"right","values":[-400,-200,0,200,400],"labels":false,"title":null}}}}
 ],
 "resolve":{"axis":{"x":"independent","y":"independent"}}},
{"title":{"text":"(e)","offset":-42,"dx":-8},"width":403,"height":184,"data":{"name":"e"},
 "layer":[
  {"mark":{"type":"line","clip":true},"encoding":{
   "x":{"field":"t","type":"quantitative","scale":{"domain":[0,500],"nice":false,"zero":false},"axis":{"values":[0,100,200,300,400,500],"title":null}},
   "y":{"field":"v","type":"quantitative","scale":{"domain":[-431,422],"nice":false,"zero":false},"axis":{"values":[-400,-200,0,200,400],"title":"S1 (A.U.)","titlePadding":6}}}},
  {"mark":{"type":"line","opacity":0},"encoding":{
   "x":{"field":"t","type":"quantitative","scale":{"domain":[0,500],"nice":false,"zero":false},"axis":{"orient":"top","values":[0,100,200,300,400,500],"labels":false,"title":"Sk for 80%MVC","titlePadding":12}},
   "y":{"field":"v","type":"quantitative","scale":{"domain":[-431,422],"nice":false,"zero":false},"axis":{"orient":"right","values":[-400,-200,0,200,400],"labels":false,"title":null}}}}
 ],
 "resolve":{"axis":{"x":"independent","y":"independent"}}},
{"title":{"text":"(c)","offset":-25},"width":403,"height":184,"data":{"name":"c"},
 "layer":[
  {"mark":{"type":"line","clip":true},"encoding":{
   "x":{"field":"t","type":"quantitative","scale":{"domain":[0,500],"nice":false,"zero":false},"axis":{"values":[0,100,200,300,400,500],"title":"time (ms)","titlePadding":8}},
   "y":{"field":"v","type":"quantitative","scale":{"domain":[-431,422],"nice":false,"zero":false},"axis":{"values":[-400,-200,0,200,400],"title":"Δ1 (A.U.)","titlePadding":6}}}},
  {"mark":{"type":"line","opacity":0},"encoding":{
   "x":{"field":"t","type":"quantitative","scale":{"domain":[0,500],"nice":false,"zero":false},"axis":{"orient":"top","values":[0,100,200,300,400,500],"labels":false,"title":"Δk for 20%MVC","titlePadding":12}},
   "y":{"field":"v","type":"quantitative","scale":{"domain":[-431,422],"nice":false,"zero":false},"axis":{"orient":"right","values":[-400,-200,0,200,400],"labels":false,"title":null}}}}
 ],
 "resolve":{"axis":{"x":"independent","y":"independent"}}},
{"title":{"text":"(f)","offset":-45,"dx":-8},"width":403,"height":184,"data":{"name":"f"},
 "layer":[
  {"mark":{"type":"line","clip":true},"encoding":{
   "x":{"field":"t","type":"quantitative","scale":{"domain":[0,500],"nice":false,"zero":false},"axis":{"values":[0,100,200,300,400,500],"title":"time (ms)","titlePadding":8}},
   "y":{"field":"v","type":"quantitative","scale":{"domain":[-431,422],"nice":false,"zero":false},"axis":{"values":[-400,-200,0,200,400],"title":"Δ1 (A.U.)","titlePadding":6}}}},
  {"mark":{"type":"line","opacity":0},"encoding":{
   "x":{"field":"t","type":"quantitative","scale":{"domain":[0,500],"nice":false,"zero":false},"axis":{"orient":"top","values":[0,100,200,300,400,500],"labels":false,"title":"Δk for 80%MVC","titlePadding":12}},
   "y":{"field":"v","type":"quantitative","scale":{"domain":[-431,422],"nice":false,"zero":false},"axis":{"orient":"right","values":[-400,-200,0,200,400],"labels":false,"title":null}}}}
 ],
 "resolve":{"axis":{"x":"independent","y":"independent"}}}
]
}
